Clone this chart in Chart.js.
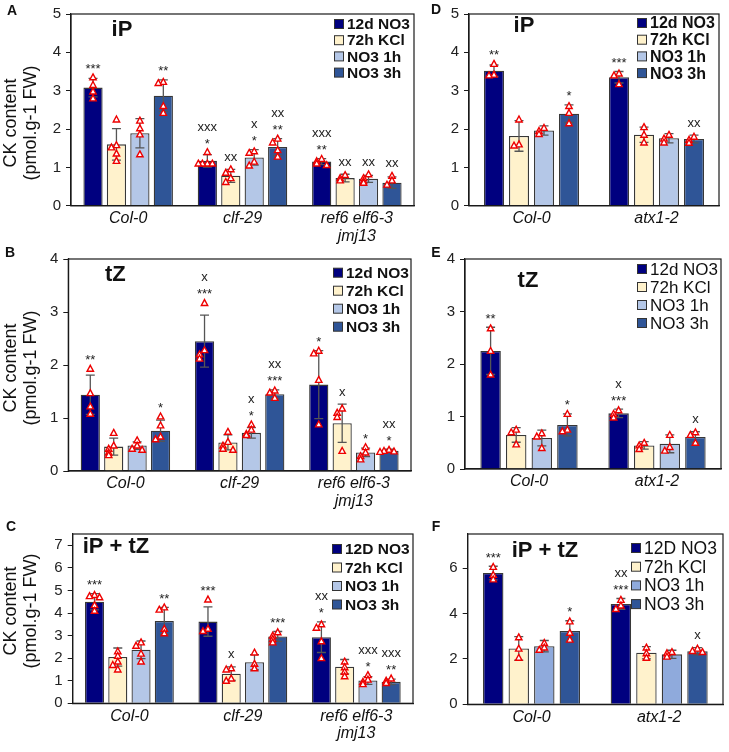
<!DOCTYPE html>
<html>
<head>
<meta charset="utf-8">
<script src="https://cdn.jsdelivr.net/npm/chart.js@4.4.1/dist/chart.umd.min.js"></script>
<style>
  html, body { margin: 0; padding: 0; background: #fff; }
  #wrap { position: relative; width: 729px; height: 752px; overflow: hidden; }
  canvas { position: absolute; }
</style>
</head>
<body>
<div id="wrap">
  <canvas id="cA" width="420" height="245" style="left:0;top:0;width:420px;height:245px"></canvas>
  <canvas id="cD" width="309" height="245" style="left:420px;top:0;width:309px;height:245px"></canvas>
  <canvas id="cB" width="420" height="275" style="left:0;top:245px;width:420px;height:275px"></canvas>
  <canvas id="cE" width="309" height="275" style="left:420px;top:245px;width:309px;height:275px"></canvas>
  <canvas id="cC" width="420" height="232" style="left:0;top:520px;width:420px;height:232px"></canvas>
  <canvas id="cF" width="309" height="232" style="left:420px;top:520px;width:309px;height:232px"></canvas>
</div>
<script>
// CK content per genotype / treatment — rows are the 4 treatments, columns the genotypes
const seriesNames = ['12d NO3', '72h KCl', 'NO3 1h', 'NO3 3h'];
const seriesNamesSum = ['12D NO3', '72h KCl', 'NO3 1h', 'NO3 3h'];
const linesPrc = ['Col-0', 'clf-29', ['ref6 elf6-3', 'jmj13']];
const linesAtx = ['Col-0', 'atx1-2'];

// y tick labels
const ticksIP = [0, 1, 2, 3, 4, 5];
const ticksTZ = [0, 1, 2, 3, 4];
const ticksSumC = [0, 1, 2, 3, 4, 5, 6, 7];
const ticksSumF = [0, 2, 4, 6];

// A — iP
const iP_A_mean = [[3.08, 1.17, 1.15], [1.60, 0.78, 0.72], [1.89, 1.26, 0.70], [2.87, 1.53, 0.60]];
const iP_A_sd = [[0.24, 0.16, 0.08], [0.41, 0.17, 0.10], [0.38, 0.20, 0.09], [0.41, 0.22, 0.15]];
const iP_A_pts = [
  [[3.35, 3.15, 2.98, 2.80], [1.40, 1.10, 1.10, 1.10, 1.10], [1.22, 1.16, 1.10, 1.06]],
  [[2.25, 1.58, 1.52, 1.36, 1.17], [0.95, 0.86, 0.72, 0.62], [0.80, 0.72, 0.66]],
  [[2.22, 2.02, 1.86, 1.34], [1.42, 1.38, 1.15, 1.05], [0.82, 0.72, 0.64, 0.60]],
  [[3.23, 3.20, 2.60, 2.42], [1.75, 1.65, 1.45, 1.28], [0.78, 0.66, 0.55]]
];
const iP_A_stars = [['***', '*', '**'], ['', '', ''], ['', '*', ''], ['**', '**', '']];
const iP_A_xs = [['', 'xxx', 'xxx'], ['', 'xx', 'xx'], ['', 'x', 'xx'], ['', 'xx', 'xx']];

// D — iP, atx1-2
const iP_D_mean = [[3.52, 3.35], [1.82, 1.85], [1.96, 1.76], [2.40, 1.74]];
const iP_D_sd = [[0.15, 0.15], [0.40, 0.20], [0.12, 0.12], [0.23, 0.10]];
const iP_D_pts = [
  [[3.70, 3.42, 3.40], [3.45, 3.40, 3.17]],
  [[2.25, 1.60, 1.57], [2.05, 1.85, 1.65]],
  [[2.03, 1.95, 1.87], [1.85, 1.75, 1.65]],
  [[2.60, 2.42, 2.15], [1.80, 1.72, 1.64]]
];
const iP_D_stars = [['**', '***'], ['', ''], ['', ''], ['*', '']];
const iP_D_xs = [['', ''], ['', ''], ['', ''], ['', 'xx']];

// B — tZ
const tZ_B_mean = [[1.44, 2.45, 1.63], [0.46, 0.54, 0.90], [0.48, 0.72, 0.35], [0.76, 1.45, 0.38]];
const tZ_B_sd = [[0.37, 0.49, 0.64], [0.16, 0.14, 0.36], [0.07, 0.10, 0.08], [0.20, 0.08, 0.03]];
const tZ_B_pts = [
  [[1.93, 1.47, 1.22, 1.08], [3.17, 2.28, 2.20, 2.12], [2.27, 2.22, 1.72, 0.88]],
  [[0.72, 0.48, 0.42, 0.35, 0.30], [0.74, 0.55, 0.48, 0.42, 0.40], [1.18, 1.10, 1.02, 0.38]],
  [[0.58, 0.48, 0.42, 0.40], [0.88, 0.78, 0.70, 0.68], [0.45, 0.35, 0.28, 0.22]],
  [[1.03, 0.86, 0.65, 0.60], [1.52, 1.48, 1.38], [0.40, 0.38, 0.37, 0.36]]
];
const tZ_B_stars = [['**', '***', '*'], ['', '', ''], ['', '*', '*'], ['*', '***', '*']];
const tZ_B_xs = [['', 'x', ''], ['', '', 'x'], ['', 'x', ''], ['', 'xx', 'xx']];

// E — tZ, atx1-2
const tZ_E_mean = [[2.25, 1.06], [0.65, 0.45], [0.59, 0.48], [0.84, 0.61]];
const tZ_E_sd = [[0.45, 0.08], [0.14, 0.07], [0.15, 0.17], [0.21, 0.10]];
const tZ_E_pts = [
  [[2.68, 2.25, 1.80], [1.12, 1.05, 0.98]],
  [[0.75, 0.70, 0.47], [0.50, 0.45, 0.38]],
  [[0.68, 0.62, 0.40], [0.65, 0.42, 0.35]],
  [[1.05, 0.75, 0.72], [0.70, 0.65, 0.50]]
];
const tZ_E_stars = [['**', '***'], ['', ''], ['', ''], ['*', '']];
const tZ_E_xs = [['', 'x'], ['', ''], ['', ''], ['', 'x']];

// C — iP + tZ
const sum_C_mean = [[4.50, 3.62, 2.93], [2.05, 1.31, 1.62], [2.37, 1.82, 1.01], [3.65, 2.96, 0.95]];
const sum_C_sd = [[0.36, 0.65, 0.68], [0.40, 0.30, 0.32], [0.39, 0.34, 0.17], [0.60, 0.22, 0.12]];
const sum_C_pts = [
  [[4.80, 4.75, 4.70, 4.35, 4.10], [4.60, 3.30, 3.20], [3.50, 3.35, 2.75, 2.00]],
  [[2.30, 2.10, 1.85, 1.70, 1.50], [1.55, 1.50, 1.10, 1.00], [1.85, 1.60, 1.40, 1.20]],
  [[2.70, 2.55, 2.20, 1.85], [2.25, 1.75, 1.55], [1.25, 1.05, 0.95, 0.85]],
  [[4.25, 4.15, 3.30, 3.10], [3.15, 3.00, 2.85, 2.70], [1.10, 1.00, 0.90]]
];
const sum_C_stars = [['***', '***', '*'], ['', '', ''], ['', '', '*'], ['**', '***', '**']];
const sum_C_xs = [['', '', 'xx'], ['', 'x', ''], ['', '', 'xxx'], ['', '', 'xxx']];

// F — iP + tZ, atx1-2
const sum_F_mean = [[5.78, 4.42], [2.46, 2.27], [2.56, 2.20], [3.23, 2.34]];
const sum_F_sd = [[0.30, 0.24], [0.52, 0.27], [0.25, 0.18], [0.45, 0.16]];
const sum_F_pts = [
  [[6.05, 5.70, 5.50], [4.60, 4.35, 4.20]],
  [[2.95, 2.45, 2.05], [2.50, 2.25, 2.05]],
  [[2.70, 2.50, 2.40], [2.30, 2.25, 2.10]],
  [[3.65, 3.15, 2.85], [2.45, 2.35, 2.30]]
];
const sum_F_stars = [['***', '***'], ['', ''], ['', ''], ['*', '']];
const sum_F_xs = [['', 'xx'], ['', ''], ['', ''], ['', 'x']];

const barColors = ['#00007f', '#fff2cc', '#b4c7e7', '#2f5597'];
const barColorsF = ['#00007f', '#fff2cc', '#8faadc', '#2f5597'];

const FONT = "'Liberation Sans', Arial, Helvetica, sans-serif";
const INK = '#1a1a1a';

function tri(ctx, x, y) {
  ctx.beginPath();
  ctx.moveTo(x, y - 3.4);
  ctx.lineTo(x + 3.2, y + 2.5);
  ctx.lineTo(x - 3.2, y + 2.5);
  ctx.closePath();
  ctx.fillStyle = '#fff';
  ctx.fill();
  ctx.strokeStyle = '#ee0000';
  ctx.lineWidth = 1.4;
  ctx.stroke();
}

// error bars, replicate points, significance marks, frame, legend and labels
const decor = {
  id: 'decor',
  afterDatasetsDraw(chart, args, o) {
    const ctx = chart.ctx, ys = chart.scales.y, a = chart.chartArea;
    ctx.save();
    ctx.strokeStyle = INK;
    ctx.lineWidth = 1.2;
    ctx.strokeRect(a.left, a.top, a.right - a.left, a.bottom - a.top);

    chart.data.datasets.forEach((ds, di) => {
      chart.getDatasetMeta(di).data.forEach((bar, i) => {
        const x = bar.x;
        const hi = ys.getPixelForValue(ds.data[i] + ds.sd[i]);
        const lo = ys.getPixelForValue(ds.data[i] - ds.sd[i]);
        ctx.strokeStyle = '#555';
        ctx.lineWidth = 1.3;
        ctx.beginPath();
        ctx.moveTo(x, hi); ctx.lineTo(x, lo);
        ctx.moveTo(x - 4.5, hi); ctx.lineTo(x + 4.5, hi);
        ctx.moveTo(x - 4.5, lo); ctx.lineTo(x + 4.5, lo);
        ctx.stroke();

        let ref = hi;
        const placed = [];
        ds.pts[i].forEach(v => {
          const py = ys.getPixelForValue(v);
          const n = placed.filter(q => Math.abs(q - py) < 4.5).length;
          placed.push(py);
          tri(ctx, x + [0, -5, 5, -9, 9][n % 5], py);
          ref = Math.min(ref, py);
        });

        ctx.fillStyle = '#222';
        ctx.textAlign = 'center';
        ctx.textBaseline = 'alphabetic';
        ctx.font = '13px ' + FONT;
        let c = ref - 12;
        if (ds.stars[i]) {
          ctx.fillText(ds.stars[i], x, c + 7.5);
          c -= 13;
        }
        if (ds.xs[i]) ctx.fillText(ds.xs[i], x, c + 3.5);
      });
    });
    ctx.restore();
  },
  afterDraw(chart, args, o) {
    const ctx = chart.ctx, a = chart.chartArea;
    ctx.save();
    ctx.fillStyle = '#111';
    ctx.textBaseline = 'middle';
    // panel letter
    ctx.textAlign = 'center';
    ctx.font = 'bold 14px ' + FONT;
    ctx.fillText(o.letter, o.letterX, o.letterY);
    // metabolite title
    ctx.font = 'bold 22px ' + FONT;
    ctx.fillText(o.title, a.left + o.titleDx, a.top + o.titleDy);
    // legend
    const lg = o.legend;
    ctx.textAlign = 'left';
    ctx.font = lg.weight + ' ' + lg.size + 'px ' + FONT;
    chart.data.datasets.forEach((ds, i) => {
      const tx = a.right - lg.dx, ty = a.top + lg.dy + i * lg.step;
      ctx.fillStyle = ds.backgroundColor;
      ctx.fillRect(tx - 12.5, ty - 4.5, 9, 9);
      ctx.strokeStyle = '#333';
      ctx.lineWidth = 1;
      ctx.strokeRect(tx - 12.5, ty - 4.5, 9, 9);
      ctx.fillStyle = '#111';
      ctx.fillText(ds.label, tx, ty + 1);
    });
    // y axis title
    if (o.yTitle) {
      ctx.textAlign = 'center';
      ctx.font = '18px ' + FONT;
      o.yTitle.forEach((t, k) => {
        ctx.save();
        ctx.translate(o.yTitleX[k], o.yTitleY);
        ctx.rotate(-Math.PI / 2);
        ctx.fillText(t, 0, 0);
        ctx.restore();
      });
    }
    ctx.restore();
  }
};

function makePanel(id, labels, names, colors, mean, sd, pts, stars, xs, yMax, yTicks, g, pct, deco) {
  new Chart(document.getElementById(id), {
    type: 'bar',
    data: {
      labels: labels,
      datasets: names.map((n, s) => ({
        label: n,
        data: mean[s],
        sd: sd[s],
        pts: pts[s],
        stars: stars[s],
        xs: xs[s],
        backgroundColor: colors[s],
        borderColor: '#383838',
        borderWidth: 1.3,
        categoryPercentage: pct,
        barPercentage: pct
      }))
    },
    options: {
      responsive: false,
      animation: false,
      layout: { autoPadding: false, padding: { left: 0, top: g.top, right: g.right, bottom: 0 } },
      plugins: { legend: { display: false }, tooltip: { enabled: false }, decor: deco },
      scales: {
        x: {
          grid: { display: false, drawTicks: false },
          border: { display: true, color: INK, width: 1.2 },
          ticks: { color: '#111', padding: 4, maxRotation: 0, autoSkip: false,
                   font: { family: FONT, size: 16, style: 'italic', lineHeight: 1.1 } },
          afterFit: s => { s.height = g.xh; }
        },
        y: {
          min: 0, max: yMax,
          grid: { drawOnChartArea: false, drawTicks: true, tickLength: 5, color: INK },
          border: { color: INK, width: 1.2 },
          ticks: { color: '#222', padding: 5, font: { family: FONT, size: 15 } },
          afterBuildTicks: s => { s.ticks = yTicks.map(v => ({ value: v })); },
          afterFit: s => { s.width = g.yw; }
        }
      }
    },
    plugins: [decor]
  });
}

const yLab = ['CK content', '(pmol.g-1 FW)'];

makePanel('cA', linesPrc, seriesNames, barColors, iP_A_mean, iP_A_sd, iP_A_pts, iP_A_stars, iP_A_xs,
  5, ticksIP, { yw: 71, xh: 39.3, top: 10, right: 6 }, 0.82,
  { letter: 'A', letterX: 12, letterY: 11, title: 'iP', titleDx: 51, titleDy: 16,
    legend: { dx: 67, dy: 10, step: 16.2, size: 15.5, weight: 'bold' },
    yTitle: yLab, yTitleX: [11.5, 31.5], yTitleY: 123 });

makePanel('cD', linesAtx, seriesNames, barColors, iP_D_mean, iP_D_sd, iP_D_pts, iP_D_stars, iP_D_xs,
  5, ticksIP, { yw: 49, xh: 39.3, top: 10, right: 10 }, 0.8,
  { letter: 'D', letterX: 16, letterY: 10, title: 'iP', titleDx: 55, titleDy: 11.5,
    legend: { dx: 69, dy: 9, step: 16.7, size: 16, weight: 'bold' } });

makePanel('cB', linesPrc, seriesNames, barColors, tZ_B_mean, tZ_B_sd, tZ_B_pts, tZ_B_stars, tZ_B_xs,
  4, ticksTZ, { yw: 68.3, xh: 49, top: 13.3, right: 9 }, 0.82,
  { letter: 'B', letterX: 10, letterY: 8, title: 'tZ', titleDx: 47, titleDy: 16,
    legend: { dx: 65, dy: 13.7, step: 18, size: 15.5, weight: 'bold' },
    yTitle: yLab, yTitleX: [11.5, 31.5], yTitleY: 123 });

makePanel('cE', linesAtx, seriesNames, barColors, tZ_E_mean, tZ_E_sd, tZ_E_pts, tZ_E_stars, tZ_E_xs,
  4, ticksTZ, { yw: 45, xh: 51, top: 13.3, right: 8 }, 0.8,
  { letter: 'E', letterX: 16, letterY: 8, title: 'tZ', titleDx: 63, titleDy: 22,
    legend: { dx: 71, dy: 10, step: 18, size: 17, weight: 'normal' } });

makePanel('cC', linesPrc, seriesNamesSum, barColors, sum_C_mean, sum_C_sd, sum_C_pts, sum_C_stars, sum_C_xs,
  7.5, ticksSumC, { yw: 72.7, xh: 48.7, top: 4, right: 7 }, 0.82,
  { letter: 'C', letterX: 11, letterY: 7, title: 'iP + tZ', titleDx: 43.3, titleDy: 12.5,
    legend: { dx: 68, dy: 15, step: 18.5, size: 15.5, weight: 'bold' },
    yTitle: yLab, yTitleX: [11.5, 31.5], yTitleY: 91 });

makePanel('cF', linesAtx, seriesNamesSum, barColorsF, sum_F_mean, sum_F_sd, sum_F_pts, sum_F_stars, sum_F_xs,
  7.5, ticksSumF, { yw: 47.7, xh: 47.7, top: 5, right: 6 }, 0.8,
  { letter: 'F', letterX: 16, letterY: 7, title: 'iP + tZ', titleDx: 77.3, titleDy: 16.5,
    legend: { dx: 79, dy: 14, step: 18.7, size: 17.5, weight: 'normal' } });
</script>
</body>
</html>
